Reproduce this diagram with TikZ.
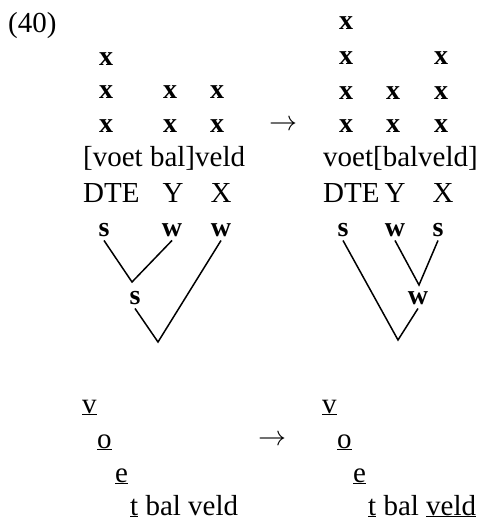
\documentclass[tikz,border=0pt]{standalone}
\usepackage{fontspec}
\setmainfont{Liberation Serif}
\newcommand{\thinarrow}{\resizebox{28pt}{!}{$\rightarrow$}}
\begin{document}
\begin{tikzpicture}[x=1pt,y=-1pt,
  txt/.style={font=\fontsize{29}{33}\selectfont, inner sep=0pt},
  grid/.style={txt, anchor=base, font=\fontsize{28}{32}\selectfont\bfseries},
  lab/.style={font=\fontsize{28}{31}\selectfont\bfseries, inner sep=4pt, anchor=base},
  branch/.style={line width=1.5pt},
  word/.style={txt, anchor=base west}]
\useasboundingbox (0,0) rectangle (480,520);

% example number
\node[word] (num) at (8,32) {(40)};

% left metrical grid
\node[grid] (l11) at (106,65) {x};
\node[grid] (l21) at (106,98) {x};
\node[grid] (l22) at (170,98) {x};
\node[grid] (l23) at (217,98) {x};
\node[grid] (l31) at (106,132) {x};
\node[grid] (l32) at (170,132) {x};
\node[grid] (l33) at (217,132) {x};
\node[word] (lw) at (83,166) {[voet bal]veld};
\node[word] (ldte) at (83,202) {DTE};
\node[txt, anchor=base] (ly) at (173,202) {Y};
\node[txt, anchor=base] (lx) at (221,202) {X};

% arrow between the grids
\node[txt, anchor=center] (arrTop) at (283,125) {\thinarrow};

% right metrical grid
\node[grid] (r01) at (346,29) {x};
\node[grid] (r11) at (346,64) {x};
\node[grid] (r13) at (441,64) {x};
\node[grid] (r21) at (346,99) {x};
\node[grid] (r22) at (393,99) {x};
\node[grid] (r23) at (441,99) {x};
\node[grid] (r31) at (346,132) {x};
\node[grid] (r32) at (393,132) {x};
\node[grid] (r33) at (441,132) {x};
\node[word] (rw) at (323,166) {voet[balveld]};
\node[word] (rdte) at (323,202) {DTE};
\node[txt, anchor=base] (ry) at (395,202) {Y};
\node[txt, anchor=base] (rx) at (443,202) {X};

% left tree
\node[lab] (ls1) at (104,236) {s};
\node[lab] (lw1) at (172,236) {w};
\node[lab] (lw2) at (221,236) {w};
\coordinate (lv1) at (132,282);
\node[lab] (ls2) at (135,304) {s};
\coordinate (lv2) at (158,342);
\draw[branch] (ls1.south) -- (lv1) -- (lw1.south);
\draw[branch] (ls2.south) -- (lv2) -- (lw2.south);

% right tree
\node[lab] (rs1) at (343,236) {s};
\node[lab] (rw1) at (395,236) {w};
\node[lab] (rs2) at (438,236) {s};
\coordinate (rv1) at (419,285);
\node[lab] (rw2) at (418,304) {w};
\coordinate (rv2) at (398,340);
\draw[branch] (rw1.south) -- (rv1) -- (rs2.south);
\draw[branch] (rs1.south) -- (rv2) -- (rw2.south);

% left segmental staircase
\node[word] (lv) at (82,413) {\underline{v}};
\node[word] (lo) at (97,448) {\underline{o}};
\node[word] (le) at (115,482) {\underline{e}};
\node[word] (lt) at (130,515) {\underline{t} bal veld};

% arrow between the staircases
\node[txt, anchor=center] (arrBot) at (272,440) {\thinarrow};

% right segmental staircase
\node[word] (rv) at (322,413) {\underline{v}};
\node[word] (ro) at (337,448) {\underline{o}};
\node[word] (re) at (353,482) {\underline{e}};
\node[word] (rt) at (368,515) {\underline{t} bal \underline{veld}};
\end{tikzpicture}
\end{document}
